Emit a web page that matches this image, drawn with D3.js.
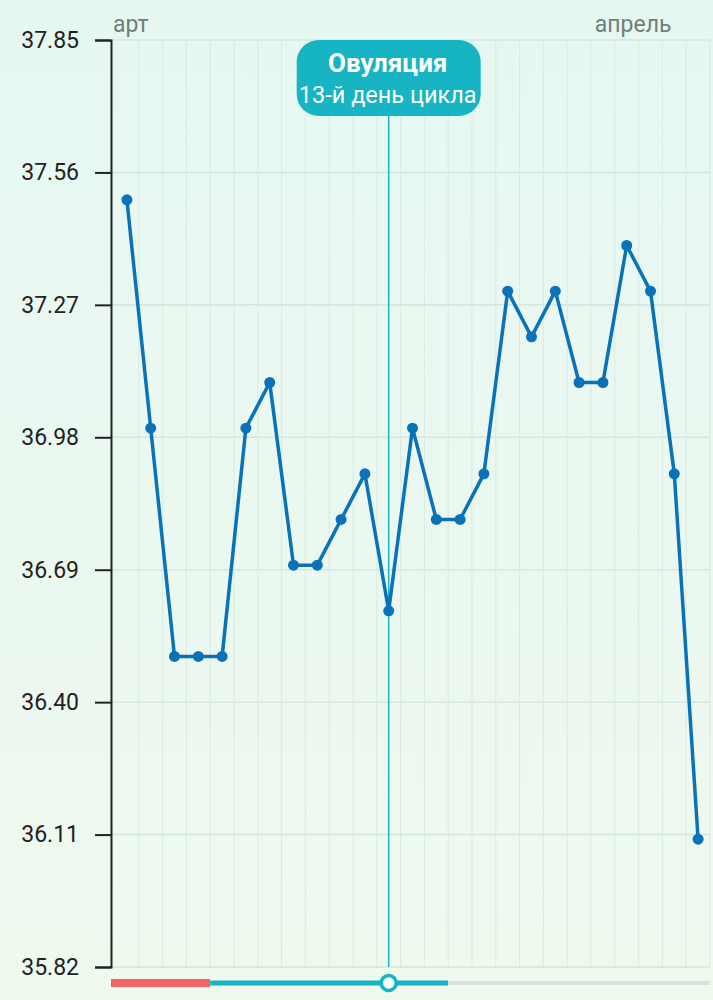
<!DOCTYPE html>
<html lang="ru">
<head>
  <meta charset="UTF-8">
  <title>Температура</title>
  <style>
    html, body { margin: 0; padding: 0; }
    body { width: 713px; height: 1000px; overflow: hidden; font-family: Roboto, "Noto Sans", sans-serif; }
    #chart { display: block; }
  </style>
</head>
<body>
  <svg id="chart" width="713" height="1000"></svg>
  <script src="https://cdnjs.cloudflare.com/ajax/libs/d3/7.8.5/d3.min.js"></script>
  <script>
    // cycle days and basal temperature
    const days = d3.range(1, 26);
    const temps = [37.50, 37.00, 36.50, 36.50, 36.50, 37.00, 37.10, 36.70, 36.70, 36.80,
                   36.90, 36.60, 37.00, 36.80, 36.80, 36.90, 37.30, 37.20, 37.30, 37.10,
                   37.10, 37.40, 37.30, 36.90, 36.10];
    const yTicks = [35.82, 36.11, 36.40, 36.69, 36.98, 37.27, 37.56, 37.85];
    const months = [{ label: "арт", day: 1, anchor: "start" }, { label: "апрель", day: 23, anchor: "end" }];
    const ovulationDay = 12;
    const ovulationTitle = "Овуляция";
    const ovulationSub = "13-й день цикла";
    // phases on the bottom strip: [first day, last day, kind]
    const phases = [[1, 4, "period"], [5, 14, "fertile"], [15, 25, "rest"]];

    const svg = d3.select("#chart");
    const W = 713, H = 1000;
    const plotLeft = 111, plotTop = 40, plotBottom = 967;

    const defs = svg.append("defs");
    const grad = defs.append("linearGradient").attr("id", "bg").attr("x1", 0).attr("y1", 0).attr("x2", 0).attr("y2", 1);
    grad.append("stop").attr("offset", "0%").attr("stop-color", "#e6f7f2");
    grad.append("stop").attr("offset", "100%").attr("stop-color", "#eff9ee");
    svg.append("rect").attr("width", W).attr("height", H).attr("fill", "url(#bg)");

    const x = d3.scaleBand().domain(days).range([115, 710]);
    const cx = d => x(d) + x.bandwidth() / 2;
    const y = d3.scaleLinear().domain([35.82, 37.85]).range([plotBottom, plotTop]);

    // vertical grid at band edges
    svg.append("g").selectAll("line")
      .data(days.slice(1).map(d => x(d)).concat([x.range()[1]]))
      .join("line")
      .attr("x1", d => d).attr("x2", d => d)
      .attr("y1", plotTop).attr("y2", plotBottom)
      .attr("stroke", "#d8ebe1").attr("stroke-width", 1);

    // horizontal grid at ticks
    svg.append("g").selectAll("line")
      .data(yTicks)
      .join("line")
      .attr("x1", plotLeft).attr("x2", 710)
      .attr("y1", d => y(d)).attr("y2", d => y(d))
      .attr("stroke", "#d5e7dd").attr("stroke-width", 1.5);

    // y axis
    const yAxis = d3.axisLeft(y).tickValues(yTicks).tickFormat(d3.format(".2f")).tickSize(16).tickSizeOuter(16).tickPadding(16);
    const ga = svg.append("g").attr("transform", `translate(${plotLeft},0)`).call(yAxis);
    ga.select(".domain").attr("stroke", "#222").attr("stroke-width", 2);
    ga.selectAll(".tick line").attr("stroke", "#222").attr("stroke-width", 2);
    ga.selectAll(".tick text").attr("fill", "#222").attr("font-size", 23).attr("font-family", "Roboto, sans-serif");

    // month labels
    svg.append("g").selectAll("text")
      .data(months)
      .join("text")
      .attr("x", d => d.anchor === "start" ? x(d.day) - 2 : cx(d.day) + 21)
      .attr("y", 32)
      .attr("text-anchor", d => d.anchor)
      .attr("fill", "#6f7f77")
      .attr("font-size", 23)
      .text(d => d.label);

    // ovulation marker line
    const ox = cx(ovulationDay);
    svg.append("line")
      .attr("x1", ox).attr("x2", ox).attr("y1", 110).attr("y2", plotBottom)
      .attr("stroke", "#1ab5c5").attr("stroke-width", 1.5);

    // temperature line
    const line = d3.line().x((d, i) => cx(days[i])).y(d => y(d));
    svg.append("path")
      .datum(temps)
      .attr("d", line)
      .attr("fill", "none")
      .attr("stroke", "#0a72b8")
      .attr("stroke-width", 3.5)
      .attr("stroke-linejoin", "round");
    svg.append("g").selectAll("circle")
      .data(temps)
      .join("circle")
      .attr("cx", (d, i) => cx(days[i]))
      .attr("cy", d => y(d))
      .attr("r", 5.5)
      .attr("fill", "#0a72b8");

    // ovulation label
    const lab = svg.append("g");
    lab.append("rect")
      .attr("x", ox - 92).attr("y", 40).attr("width", 184).attr("height", 76).attr("rx", 22)
      .attr("fill", "#17b4c4");
    lab.append("text")
      .attr("x", ox - 1).attr("y", 72).attr("text-anchor", "middle")
      .attr("fill", "#fff").attr("font-size", 26).attr("font-weight", "bold")
      .text(ovulationTitle);
    lab.append("text")
      .attr("x", ox - 1).attr("y", 103).attr("text-anchor", "middle")
      .attr("fill", "#fff").attr("font-size", 23.5)
      .text(ovulationSub);

    // phase strip
    const phaseColor = { period: "#f26468", fertile: "#17b4c4", rest: "#d9e3dd" };
    const phaseWidth = { period: 8, fertile: 5, rest: 4 };
    svg.append("g").selectAll("line")
      .data(phases)
      .join("line")
      .attr("x1", d => d[0] === 1 ? plotLeft : x(d[0]))
      .attr("x2", d => x(d[1]) + x.bandwidth())
      .attr("y1", 983).attr("y2", 983)
      .attr("stroke", d => phaseColor[d[2]])
      .attr("stroke-width", d => phaseWidth[d[2]]);
    svg.append("circle")
      .attr("cx", ox).attr("cy", 983).attr("r", 7.5)
      .attr("fill", "#fff").attr("stroke", "#17b4c4").attr("stroke-width", 3.5);
  </script>
</body>
</html>
